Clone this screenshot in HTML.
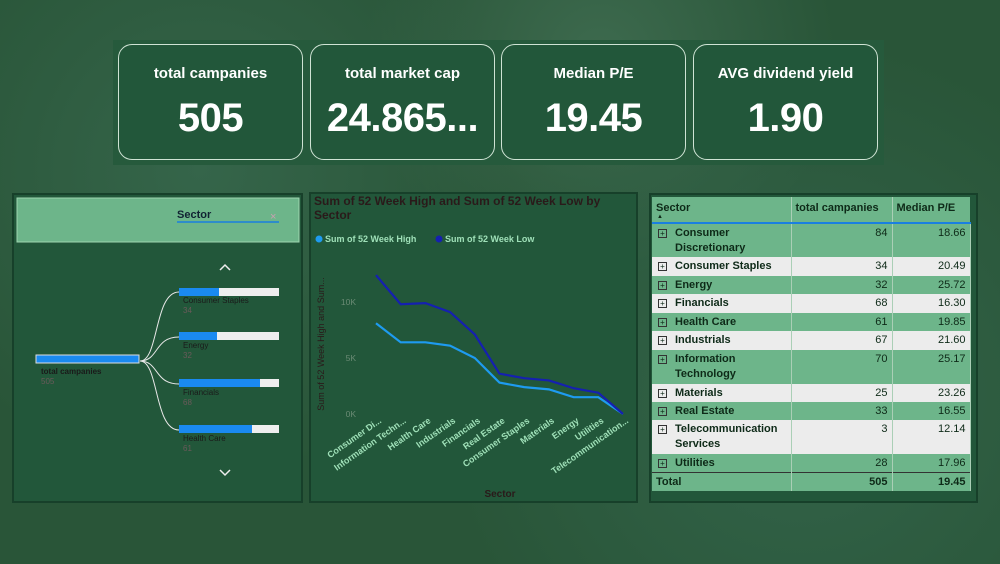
<!DOCTYPE html>
<html><head><meta charset="utf-8"><style>
*{box-sizing:border-box;margin:0;padding:0}
body{width:1000px;height:564px;overflow:hidden;font-family:"Liberation Sans",sans-serif;position:relative;
background:radial-gradient(circle at 20% 30%,#35654a 0,transparent 35%),radial-gradient(circle at 80% 70%,#33644a 0,transparent 40%),radial-gradient(circle at 60% 10%,#3d6a4e 0,transparent 30%),#295538;}
.abs{position:absolute}
.kpiwrap{left:113px;top:40px;width:771px;height:125px;background:#265a3c}
.card{top:44px;width:185px;height:116px;border:1px solid #cfe3d4;border-radius:14px;background:#22573a;color:#fff;text-align:center}
.card .t{margin-top:20px;font-size:15px;font-weight:bold}
.card .v{margin-top:14px;font-size:40px;font-weight:bold;letter-spacing:-0.5px}
.panel{border:2px solid #17402a;background:#22573a}
table{border-collapse:collapse;font-size:11px;font-weight:bold;color:#0e2a18;width:318px;table-layout:fixed}
td{border-right:1px solid #aacfb6;padding:2px 4px 0 4px;vertical-align:top;line-height:15px;overflow:hidden}
td.n{text-align:right;font-weight:normal}
tr.g{background:#6db58a}tr.w{background:#ececec}
.pl{display:inline-block;width:9px;height:9px;border:1px solid #333;font-size:8px;line-height:7px;text-align:center;margin:0 8px 0 2px;font-weight:normal}
</style></head><body>
<div class="abs kpiwrap"></div>
<div class="abs card" style="left:118px"><div class="t">total campanies</div><div class="v">505</div></div>
<div class="abs card" style="left:310px"><div class="t">total market cap</div><div class="v">24.865...</div></div>
<div class="abs card" style="left:501px"><div class="t">Median P/E</div><div class="v">19.45</div></div>
<div class="abs card" style="left:693px"><div class="t">AVG dividend yield</div><div class="v">1.90</div></div>

<div class="abs panel" style="left:12px;top:193px;width:291px;height:310px">
<svg width="287" height="306" style="position:absolute;left:0;top:0">
<rect x="3" y="3" width="282" height="44" fill="#6db58a" stroke="#9fd6b0"/>
<text x="163" y="23" font-size="11" font-weight="bold" fill="#123">Sector</text>
<line x1="163" y1="27" x2="265" y2="27" stroke="#1a7fe0" stroke-width="1.5"/>
<text x="256" y="25" font-size="11" fill="#c8a0b0">×</text>
<polyline points="206,75 211,70 216,75" fill="none" stroke="#eee" stroke-width="1.5"/>
<polyline points="206,275 211,280 216,275" fill="none" stroke="#eee" stroke-width="1.5"/>
<g fill="none" stroke="#e8e8e8" stroke-width="1">
<path d="M126,166 C145,166 140,97 165,97"/><path d="M126,166 C145,166 140,142 165,142"/>
<path d="M126,166 C145,166 140,189 165,189"/><path d="M126,166 C145,166 140,235 165,235"/></g>
<rect x="22" y="160" width="103" height="8" fill="#1a8af0" stroke="#ddd"/>
<text x="27" y="179" font-size="8" font-weight="bold" fill="#1a1a1a">total campanies</text><text x="27" y="189" font-size="8" fill="#6a5a5a">505</text>
<g>
<rect x="165" y="93" width="100" height="8" fill="#eee"/><rect x="165" y="93" width="40" height="8" fill="#1a8af0"/>
<text x="169" y="108" font-size="8" fill="#1a1a1a">Consumer Staples</text><text x="169" y="118" font-size="8" fill="#6a5a5a">34</text>
<rect x="165" y="137" width="100" height="8" fill="#eee"/><rect x="165" y="137" width="38" height="8" fill="#1a8af0"/>
<text x="169" y="153" font-size="8" fill="#1a1a1a">Energy</text><text x="169" y="163" font-size="8" fill="#6a5a5a">32</text>
<rect x="165" y="184" width="100" height="8" fill="#eee"/><rect x="165" y="184" width="81" height="8" fill="#1a8af0"/>
<text x="169" y="200" font-size="8" fill="#1a1a1a">Financials</text><text x="169" y="210" font-size="8" fill="#6a5a5a">68</text>
<rect x="165" y="230" width="100" height="8" fill="#eee"/><rect x="165" y="230" width="73" height="8" fill="#1a8af0"/>
<text x="169" y="246" font-size="8" fill="#1a1a1a">Health Care</text><text x="169" y="256" font-size="8" fill="#6a5a5a">61</text>
</g></svg></div>

<div class="abs panel" style="left:309px;top:192px;width:329px;height:311px">
<svg id="chart" width="325" height="307" style="position:absolute;left:0;top:0"></svg></div>

<div class="abs panel" style="left:649px;top:193px;width:329px;height:310px;background:#22573a">
<table style="position:absolute;left:1px;top:2px">
<colgroup><col style="width:139px"><col style="width:101px"><col style="width:78px"></colgroup>
<tr class="g" style="height:26px;border-bottom:2px solid #1a7fe0"><td style="position:relative;padding-top:4px">Sector<span style="position:absolute;left:5px;top:17px;font-size:6px;line-height:6px">▲</span></td><td style="padding-top:4px">total campanies</td><td style="border-right:none;padding-top:4px">Median P/E</td></tr>
<tr class="g" style="height:34px"><td><span class="pl">+</span>Consumer<br><span style="margin-left:19px">Discretionary</span></td><td class="n">84</td><td class="n">18.66</td></tr>
<tr class="w" style="height:19px"><td><span class="pl">+</span>Consumer Staples</td><td class="n">34</td><td class="n">20.49</td></tr>
<tr class="g" style="height:18px"><td><span class="pl">+</span>Energy</td><td class="n">32</td><td class="n">25.72</td></tr>
<tr class="w" style="height:19px"><td><span class="pl">+</span>Financials</td><td class="n">68</td><td class="n">16.30</td></tr>
<tr class="g" style="height:18px"><td><span class="pl">+</span>Health Care</td><td class="n">61</td><td class="n">19.85</td></tr>
<tr class="w" style="height:19px"><td><span class="pl">+</span>Industrials</td><td class="n">67</td><td class="n">21.60</td></tr>
<tr class="g" style="height:34px"><td><span class="pl">+</span>Information<br><span style="margin-left:19px">Technology</span></td><td class="n">70</td><td class="n">25.17</td></tr>
<tr class="w" style="height:18px"><td><span class="pl">+</span>Materials</td><td class="n">25</td><td class="n">23.26</td></tr>
<tr class="g" style="height:18px"><td><span class="pl">+</span>Real Estate</td><td class="n">33</td><td class="n">16.55</td></tr>
<tr class="w" style="height:34px"><td><span class="pl">+</span>Telecommunication<br><span style="margin-left:19px">Services</span></td><td class="n">3</td><td class="n">12.14</td></tr>
<tr class="g" style="height:18px"><td><span class="pl">+</span>Utilities</td><td class="n">28</td><td class="n">17.96</td></tr>
<tr class="g" style="height:19px;border-top:1px solid #333"><td>Total</td><td class="n" style="font-weight:bold">505</td><td class="n" style="font-weight:bold">19.45</td></tr>
</table></div>

<script>
const categories=["Consumer Di...","Information Techn...","Health Care","Industrials","Financials","Real Estate","Consumer Staples","Materials","Energy","Utilities","Telecommunication..."];
const highVals=[8.1,6.4,6.4,6.1,5.0,2.8,2.4,2.2,1.5,1.5,0.0];
const lowVals=[12.4,9.8,9.9,9.1,7.1,3.6,3.2,3.0,2.3,1.9,0.0];
const yTicks=[0,5,10];
const ns="http://www.w3.org/2000/svg";
const svg=document.getElementById('chart');
const x=i=>65+i*24.7;
const y=v=>220-v*11.2;
function el(t,a,txt){const e=document.createElementNS(ns,t);for(const k in a)e.setAttribute(k,a[k]);if(txt!=null)e.textContent=txt;svg.appendChild(e);return e;}
let t=el('text',{x:3,y:11,'font-size':12,'font-weight':'bold',fill:'#2a1a1a'},'Sum of 52 Week High and Sum of 52 Week Low by');


el('text',{x:3,y:25,'font-size':12,'font-weight':'bold',fill:'#2a1a1a'},'Sector');
let c=el('circle',{cx:8,cy:45,r:3.5,fill:'#1e9bf0'});


el('text',{x:14,y:48,'font-size':9,'font-weight':'bold',fill:'#9fe0b8'},'Sum of 52 Week High');
c=el('circle',{cx:128,cy:45,r:3.5,fill:'#1520b0'});


el('text',{x:134,y:48,'font-size':9,'font-weight':'bold',fill:'#9fe0b8'},'Sum of 52 Week Low');
yTicks.forEach(v=>{const e=el('text',{x:45,y:y(v)+3,'font-size':8.5,fill:'#6a8a74','text-anchor':'end'},v+'K');

});
t=el('text',{transform:'translate(13,150) rotate(-90)','font-size':9,fill:'#2a1a1a','text-anchor':'middle'},'Sum of 52 Week High and Sum...');


t=el('text',{x:189,y:303,'font-size':10,'font-weight':'bold',fill:'#2a1a1a','text-anchor':'middle'},'Sector');


categories.forEach((cat,i)=>{const e=el('text',{transform:`translate(${x(i)+6},${228}) rotate(-35)`,'font-size':9,'font-weight':'bold',fill:'#9fe0b8','text-anchor':'end'},cat);

});
function line(vals,col,name){const p=el('polyline',{points:vals.map((v,i)=>x(i)+','+y(v)).join(' '),fill:'none',stroke:col,'stroke-width':2.2});

}
line(highVals,'#1e9bf0','line-52-week-high');
line(lowVals,'#1520b0','line-52-week-low');
</script>
</body></html>
